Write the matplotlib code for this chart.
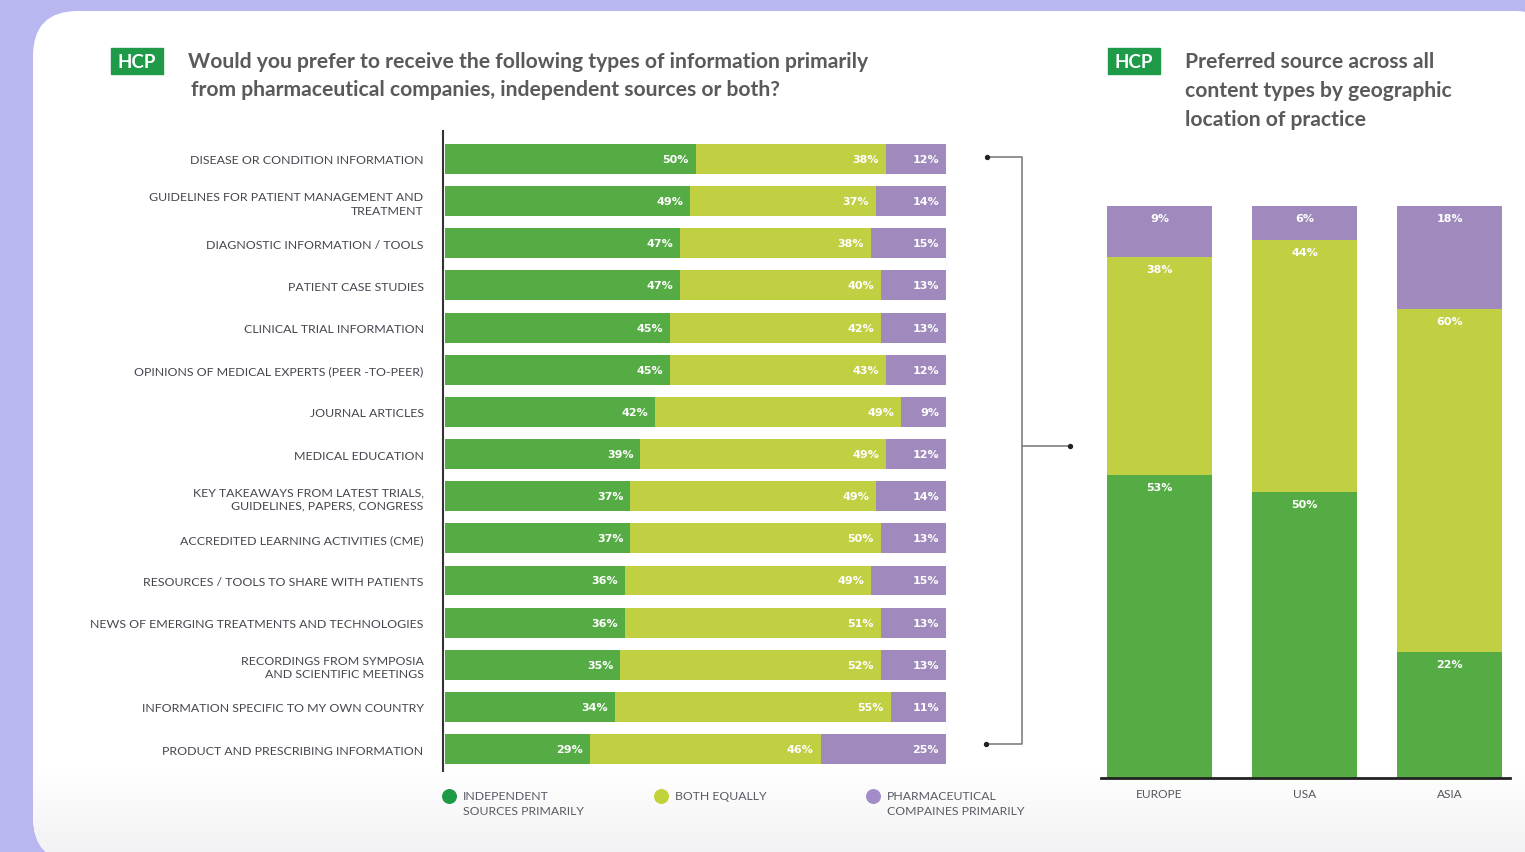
import numpy as np
import matplotlib.pyplot as plt
from matplotlib.patches import FancyBboxPatch, Rectangle
from matplotlib.colors import LinearSegmentedColormap

# ---- data ----
categories = [
    'DISEASE OR CONDITION INFORMATION',
    'GUIDELINES FOR PATIENT MANAGEMENT AND\nTREATMENT',
    'DIAGNOSTIC INFORMATION / TOOLS',
    'PATIENT CASE STUDIES',
    'CLINICAL TRIAL INFORMATION',
    'OPINIONS OF MEDICAL EXPERTS (PEER -TO-PEER)',
    'JOURNAL ARTICLES',
    'MEDICAL EDUCATION',
    'KEY TAKEAWAYS FROM LATEST TRIALS,\nGUIDELINES, PAPERS, CONGRESS',
    'ACCREDITED LEARNING ACTIVITIES (CME)',
    'RESOURCES / TOOLS TO SHARE WITH PATIENTS',
    'NEWS OF EMERGING TREATMENTS AND TECHNOLOGIES',
    'RECORDINGS FROM SYMPOSIA\nAND SCIENTIFIC MEETINGS',
    'INFORMATION SPECIFIC TO MY OWN COUNTRY',
    'PRODUCT AND PRESCRIBING INFORMATION',
]
independent = [50, 49, 47, 47, 45, 45, 42, 39, 37, 37, 36, 36, 35, 34, 29]
both = [38, 37, 38, 40, 42, 43, 49, 49, 49, 50, 49, 51, 52, 55, 46]
pharma = [12, 14, 15, 13, 13, 12, 9, 12, 14, 13, 15, 13, 13, 11, 25]

regions = ['EUROPE', 'USA', 'ASIA']
reg_independent = [53, 50, 22]
reg_both = [38, 44, 60]
reg_pharma = [9, 6, 18]

legend_labels = ['INDEPENDENT\nSOURCES PRIMARILY', 'BOTH EQUALLY',
                 'PHARMACEUTICAL\nCOMPAINES PRIMARILY']

GREEN = '#55ab44'
LIME = '#c1cf42'
PURPLE = '#9f89bd'
LEG_COLORS = ['#1f9a44', '#c2d23a', '#a48cc8']
TITLE_C = '#5a5a5a'
TXT_C = '#45454f'

W, H = 1525, 853
fig = plt.figure(figsize=(W / 100, H / 100), dpi=100)


def px_axes(x0, y0, x1, y1):
    return fig.add_axes([x0 / W, 1 - y1 / H, (x1 - x0) / W, (y1 - y0) / H])


# background + white card
bg = fig.add_axes([0, 0, 1, 1])
bg.set_xlim(0, W)
bg.set_ylim(H, 0)
bg.axis('off')
bg.add_patch(Rectangle((0, 0), W, H, color='#b8b7f0'))
panel = FancyBboxPatch((33, 12), 1527, 851, boxstyle='round,pad=0,rounding_size=45',
                       fc='white', ec='none')
bg.add_patch(panel)
grad = np.linspace(0, 1, 100).reshape(-1, 1)
im = bg.imshow(grad, extent=[0, W, 853, 770],
               cmap=LinearSegmentedColormap.from_list('g', ['#ffffff', '#f2f2f4']),
               aspect='auto', zorder=1)
im.set_clip_path(panel)

# badges and titles
for bx in (111, 1108):
    bg.add_patch(Rectangle((bx, 49), 52, 26, color='#1e9a48', zorder=3))
    bg.text(bx + 26, 62.5, 'HCP', ha='center', va='center', color='white',
            fontsize=13.5, fontweight='bold', family='Lato', zorder=4)

bg.text(188, 62, 'Would you prefer to receive the following types of information primarily',
        va='center', fontsize=15.2, fontweight='bold', color=TITLE_C, family='Lato')
bg.text(191, 90, 'from pharmaceutical companies, independent sources or both?',
        va='center', fontsize=15.2, fontweight='bold', color=TITLE_C, family='Lato')
for i, line in enumerate(['Preferred source across all', 'content types by geographic',
                          'location of practice']):
    bg.text(1185, 62 + 29 * i, line, va='center', fontsize=15.2, fontweight='bold',
            color=TITLE_C, family='Lato')

# bracket connector
bg.plot([987, 1022, 1022, 986], [158, 158, 745, 745], color='#808080', lw=1.2)
bg.plot([1022, 1070], [447, 447], color='#808080', lw=1.2)
bg.scatter([987, 986, 1070], [158, 745, 447], s=8, color='#222222', zorder=5)

# legend
for k, (lx, lab) in enumerate(zip([449, 661, 873], legend_labels)):
    bg.scatter([lx], [797], s=95, color=LEG_COLORS[k], zorder=5)
    bg.text(lx + 14, 791, lab, va='top', ha='left', fontsize=8.8, color='#5a5a66',
            family='Lato', linespacing=1.4)

# ---- left stacked horizontal bars ----
ax = px_axes(443, 132, 946, 772)
y = np.arange(len(categories))
ax.set_xlim(-0.4, 100)
ax.set_ylim(14.52, -0.664)
ax.patch.set_alpha(0)
left = np.zeros(len(y))
for vals, col in [(independent, GREEN), (both, LIME), (pharma, PURPLE)]:
    vals = np.array(vals)
    ax.barh(y, vals, left=left, height=0.71, color=col)
    for i, v in enumerate(vals):
        ax.annotate(f'{v}%', xy=(left[i] + v, i), xytext=(-5, 0), textcoords='offset points',
                    ha='right', va='center', color='white', fontsize=8, fontweight='bold')
    left += vals
for s in ['top', 'right', 'bottom']:
    ax.spines[s].set_visible(False)
ax.spines['left'].set_color('#333333')
ax.spines['left'].set_linewidth(1.5)
ax.set_xticks([])
ax.set_yticks(y, categories)
ax.tick_params(axis='y', length=0, pad=14, labelsize=8.9, labelcolor=TXT_C)
for t in ax.get_yticklabels():
    t.set_family('Lato')
    t.set_linespacing(1.3)

# ---- right stacked vertical bars ----
ax2 = px_axes(1101, 207, 1510, 779)
x = np.arange(len(regions))
ax2.set_xlim(-0.403, 2.417)
ax2.set_ylim(0, 100)
ax2.patch.set_alpha(0)
bottom = np.zeros(len(x))
for vals, col in [(reg_independent, GREEN), (reg_both, LIME), (reg_pharma, PURPLE)]:
    vals = np.array(vals)
    ax2.bar(x, vals, bottom=bottom, width=0.724, color=col)
    for i, v in enumerate(vals):
        ax2.annotate(f'{v}%', xy=(i, bottom[i] + v), xytext=(0, -5), textcoords='offset points',
                     ha='center', va='top', color='white', fontsize=8, fontweight='bold')
    bottom += vals
for s in ['top', 'right', 'left']:
    ax2.spines[s].set_visible(False)
ax2.spines['bottom'].set_color('#222222')
ax2.spines['bottom'].set_linewidth(2)
ax2.set_yticks([])
ax2.set_xticks(x, regions)
ax2.tick_params(axis='x', length=0, pad=7, labelsize=8.6, labelcolor='#55555f')
for t in ax2.get_xticklabels():
    t.set_family('Lato')

fig.savefig('out.png', dpi=100)
